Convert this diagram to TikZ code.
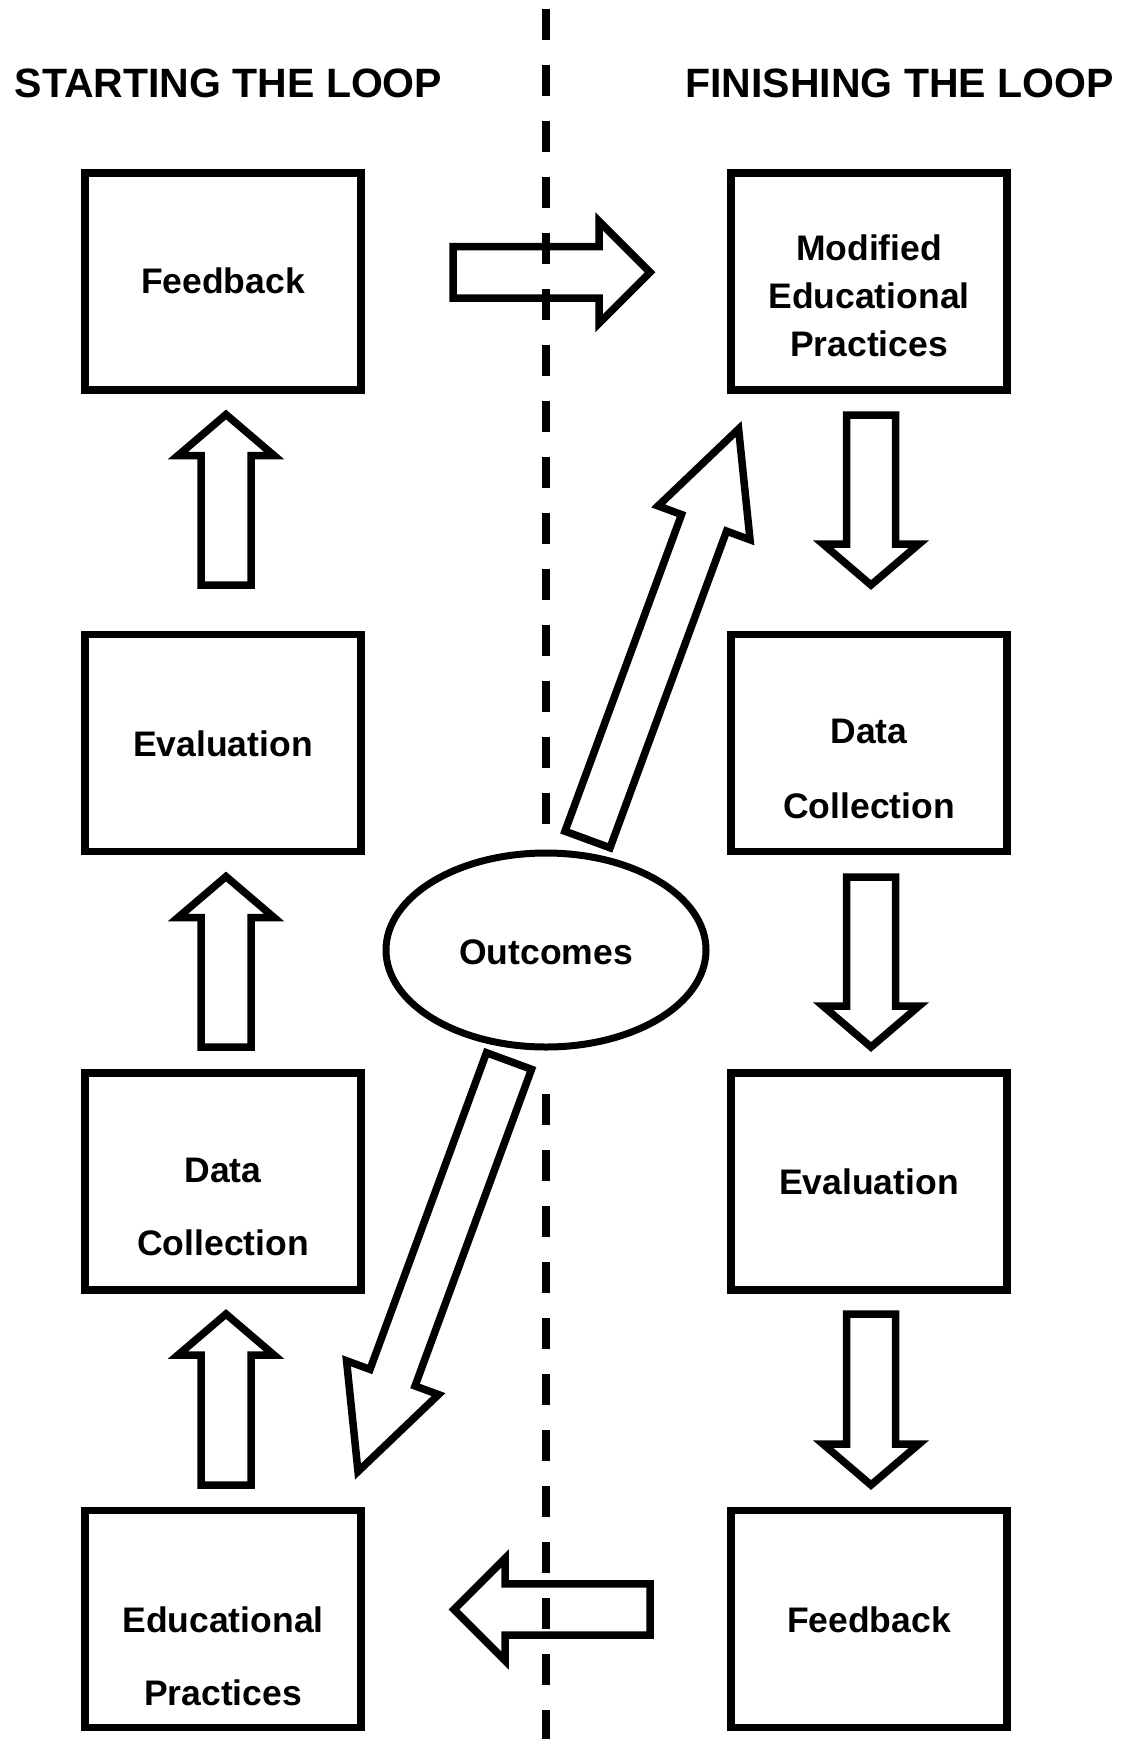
\documentclass[tikz,border=0pt]{standalone}
\usepackage{fontspec}
\setmainfont{Liberation Sans}
\usetikzlibrary{calc,shapes.geometric}
\tikzset{
  flowbox/.style={draw, line width=7.5pt, minimum width=276pt, minimum height=217pt, inner sep=0pt, outer sep=0pt},
  boxtext/.style={font=\fontsize{35.5pt}{42pt}\selectfont\bfseries, anchor=base, inner sep=0pt},
  headtext/.style={font=\fontsize{41pt}{48pt}\selectfont\bfseries, anchor=base, inner sep=0pt},
  blockarrow/.style={draw, line width=7.5pt, line join=miter, miter limit=20},
  divider/.style={draw, line width=7.5pt, dash pattern=on 31pt off 25pt},
  outcomeshape/.style={ellipse, draw, line width=7pt, minimum width=320pt, minimum height=194pt, inner sep=0pt},
}
\newcommand{\drawblockarrow}[5]{%
  \coordinate (ba) at ($(#2)!#5!(#1)$);
  \draw[blockarrow] ($(#1)!#3!90:(#2)$) -- ($(ba)!#3!90:(#2)$) -- ($(ba)!#4!90:(#2)$) -- (#2)
     -- ($(ba)!#4!-90:(#2)$) -- ($(ba)!#3!-90:(#2)$) -- ($(#1)!#3!-90:(#2)$) -- cycle;
}
\begin{document}
\begin{tikzpicture}[x=1pt,y=-1pt]
\useasboundingbox (0,0) rectangle (1128,1739);

% headers
\node[headtext] (hL) at (228.5,98) {STARTING THE LOOP};
\node[headtext] (hR) at (899.5,98) {FINISHING THE LOOP};

% divider
\coordinate (d1) at (546,9);
\coordinate (d2) at (546,825);
\coordinate (d3) at (546,1094);
\coordinate (d4) at (546,1745);
\draw[divider] (d1) -- (d2);
\draw[divider] (d3) -- (d4);

% boxes
\node[flowbox] (L1) at (223,281.5) {};
\node[flowbox] (L2) at (223,743) {};
\node[flowbox] (L3) at (223,1181.5) {};
\node[flowbox] (L4) at (223,1619) {};
\node[flowbox] (R1) at (869,281.5) {};
\node[flowbox] (R2) at (869,743) {};
\node[flowbox] (R3) at (869,1181.5) {};
\node[flowbox] (R4) at (869,1619) {};

% box texts
\node[boxtext] (tL1) at (223,293) {Feedback};
\node[boxtext] (tL2) at (223,756) {Evaluation};
\node[boxtext] (tL3a) at (223,1182) {Data};
\node[boxtext] (tL3b) at (223,1255) {Collection};
\node[boxtext] (tL4a) at (223,1632) {Educational};
\node[boxtext] (tL4b) at (223,1705) {Practices};
\node[boxtext] (tR1a) at (869,260) {Modified};
\node[boxtext] (tR1b) at (869,308) {Educational};
\node[boxtext] (tR1c) at (869,356) {Practices};
\node[boxtext] (tR2a) at (869,743) {Data};
\node[boxtext] (tR2b) at (869,818) {Collection};
\node[boxtext] (tR3) at (869,1194) {Evaluation};
\node[boxtext] (tR4) at (869,1632) {Feedback};

% outcomes
\node[outcomeshape] (out) at (546,950) {};
\node[boxtext] (tout) at (546,964) {Outcomes};

% left up arrows
\coordinate (ua1s) at (226,585);  \coordinate (ua1e) at (226,414.5);
\coordinate (ua2s) at (226,1047); \coordinate (ua2e) at (226,876.5);
\coordinate (ua3s) at (226,1485); \coordinate (ua3e) at (226,1314);
\drawblockarrow{ua1s}{ua1e}{25pt}{48pt}{41pt}
\drawblockarrow{ua2s}{ua2e}{25pt}{48pt}{41pt}
\drawblockarrow{ua3s}{ua3e}{25pt}{48pt}{41pt}

% right down arrows
\coordinate (da1s) at (871,415);  \coordinate (da1e) at (871,585);
\coordinate (da2s) at (871,877);  \coordinate (da2e) at (871,1047);
\coordinate (da3s) at (871,1314); \coordinate (da3e) at (871,1485);
\drawblockarrow{da1s}{da1e}{24.5pt}{48pt}{41pt}
\drawblockarrow{da2s}{da2e}{24.5pt}{48pt}{41pt}
\drawblockarrow{da3s}{da3e}{24.5pt}{48pt}{41pt}

% horizontal arrows
\coordinate (ha1s) at (453,272.3); \coordinate (ha1e) at (650,272.3);
\coordinate (ha2s) at (650,1609.5); \coordinate (ha2e) at (454,1609.5);
\drawblockarrow{ha1s}{ha1e}{25.7pt}{51pt}{51pt}
\drawblockarrow{ha2s}{ha2e}{25.7pt}{51pt}{51pt}

% diagonal arrows
\coordinate (ga1s) at (587.5,839.5); \coordinate (ga1e) at (738.6,429);
\coordinate (ga2s) at (509,1061);    \coordinate (ga2e) at (358,1471.5);
\drawblockarrow{ga1s}{ga1e}{24pt}{49pt}{100pt}
\drawblockarrow{ga2s}{ga2e}{24pt}{49pt}{100pt}
\end{tikzpicture}
\end{document}
